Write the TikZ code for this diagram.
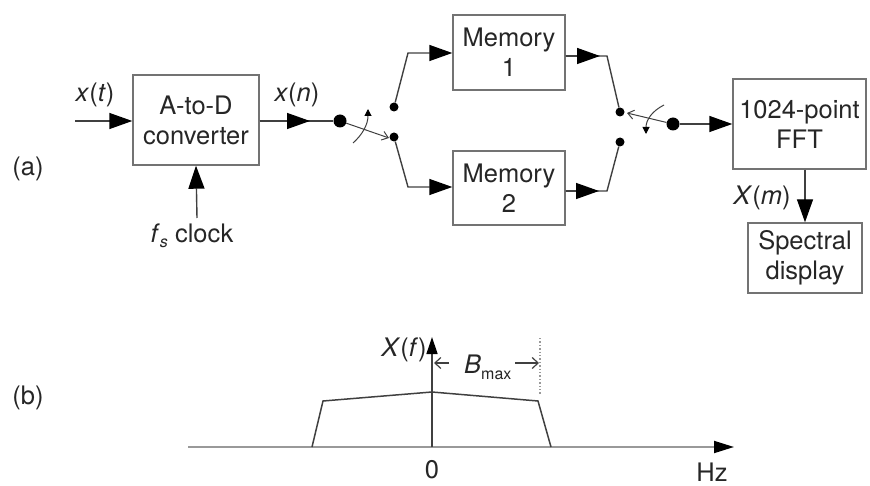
\documentclass[tikz,border=0pt]{standalone}
\usepackage{fontspec}
\setmainfont{TeX Gyre Heros}
\usetikzlibrary{arrows.meta}
\definecolor{ln}{gray}{0.25}
\definecolor{bx}{gray}{0.45}
\definecolor{ax}{gray}{0.6}
\begin{document}
\begin{tikzpicture}[x=1pt,y=-1pt,
  font=\fontsize{25.5}{30}\selectfont,
  blk/.style={draw=bx,line width=1.4pt,align=center,inner sep=0pt,text=black!85},
  wire/.style={draw=ln,line width=1.4pt},
  arr/.style={wire,-{Triangle[length=23pt,width=16pt,color=black,fill=black]}},
  dotn/.style={circle,fill=black,inner sep=0pt,minimum size=#1},
  lab/.style={text=black!85,inner sep=0pt},
  opn/.style={draw=ln,line width=1pt,-{Straight Barb[length=6pt,width=9pt]}},
  curv/.style={draw=ln,line width=1pt,-{Triangle[length=7pt,width=7pt,color=black,fill=black]}},
  axis/.style={draw=ax,line width=1.8pt}]
\useasboundingbox (0,0) rectangle (870,486);

% blocks
\node[blk,minimum width=126pt,minimum height=90pt] (adc) at (196,120) {A-to-D\\converter};
\node[blk,minimum width=112pt,minimum height=75pt] (m1) at (509,52.5) {Memory\\1};
\node[blk,minimum width=112pt,minimum height=74pt] (m2) at (509,188) {Memory\\2};
\node[blk,minimum width=133pt,minimum height=90pt] (fft) at (799.5,124) {1024-point\\FFT};
\node[blk,minimum width=114pt,minimum height=70pt] (spec) at (805,258) {Spectral\\display};

% labels
\node[lab] (la) at (28,169) {(a)};
\node[lab] (lb) at (28,398) {(b)};
\node[lab] (xt) at (95,95) {\textit{x}(\textit{t})};
\node[lab] (xn) at (297,95) {\textit{x}(\textit{n})};
\node[lab] (fs) at (192,236) {\textit{f}\raisebox{-0.35ex}{\fontsize{16}{16}\selectfont\textit{s}} clock};
\node[lab] (xm) at (762,198) {\textit{X}(\textit{m})};

% coordinates
\coordinate (xin) at (75,121);
\coordinate (clk) at (197,218);
\node[dotn=13pt] (d1) at (340,121) {};
\node[dotn=9pt] (c1u) at (394,107) {};
\node[dotn=9pt] (c1l) at (394,137) {};
\coordinate (k1u) at (408,53);
\coordinate (k1l) at (408,187);
\coordinate (lev1) at (389,138);
\coordinate (a1) at (310,121);

\node[dotn=13pt] (d2) at (673,124) {};
\node[dotn=9pt] (c2u) at (620,112) {};
\node[dotn=9pt] (c2l) at (620,142) {};
\coordinate (k2u) at (607,56);
\coordinate (k2l) at (607,191);
\coordinate (lev2) at (627,113);

% input / clock
\draw[arr] (xin) -- (adc.west|-xin);
\draw[arr] (clk) -- (adc.south);
\draw[wire] (adc.east|-d1) -- (d1);
\draw[arr] (adc.east|-d1) -- (a1);

% left switch
\draw[opn] (d1) -- (lev1);
\draw[curv] (353,143) .. controls (362,135) and (368,125) .. (368,109);
\draw[arr] (c1u) -- (k1u) -- (m1.west|-k1u);
\draw[arr] (c1l) -- (k1l) -- (m2.west|-k1l);

% right side
\draw[wire] (m1.east|-k2u) -- (k2u) -- (c2u);
\draw[arr] (m1.east|-k2u) -- (600,56);
\draw[wire] (m2.east|-k2l) -- (k2l) -- (c2l);
\draw[arr] (m2.east|-k2l) -- (599,191);

% right switch
\draw[opn] (d2) -- (lev2);
\draw[curv] (664,105) .. controls (652,111) and (646,120) .. (646,134);
\draw[arr] (d2) -- (fft.west|-d2);
\draw[arr] (fft.south-|spec.north) -- (spec.north);

% (b) spectrum
\coordinate (o) at (432,447);
\coordinate (hx) at (734,447);
\coordinate (vy) at (432,337);
\draw[axis,-{Triangle[length=20pt,width=12pt,color=black,fill=black]}] (188,447) -- (hx);
\draw[line width=1.3pt,draw=ln,-{Triangle[length=17pt,width=11pt,color=black,fill=black]}] (o) -- (vy);
\draw[line width=1.5pt,draw=ln] (312,447) -- (323,401) -- (432,392) -- (538,401) -- (551,447);
\draw[draw=ax,line width=1.4pt,dotted] (540,338) -- (540,394);
\draw[line width=1.2pt,draw=ln,-{Straight Barb[length=6pt,width=11pt]}] (449,363) -- (434,363);
\draw[line width=1.2pt,draw=ln,-{Straight Barb[length=6pt,width=11pt]}] (515,363) -- (539,363);
\node[lab] (xf) at (404,350) {\textit{X}(\textit{f})};
\node[lab,anchor=base west] (bm) at (464,373) {\textit{B}\raisebox{-0.5ex}{\fontsize{16}{16}\selectfont max}};
\node[lab] (z) at (432,470) {0};
\node[lab] (hz) at (712,472) {Hz};
\end{tikzpicture}
\end{document}
